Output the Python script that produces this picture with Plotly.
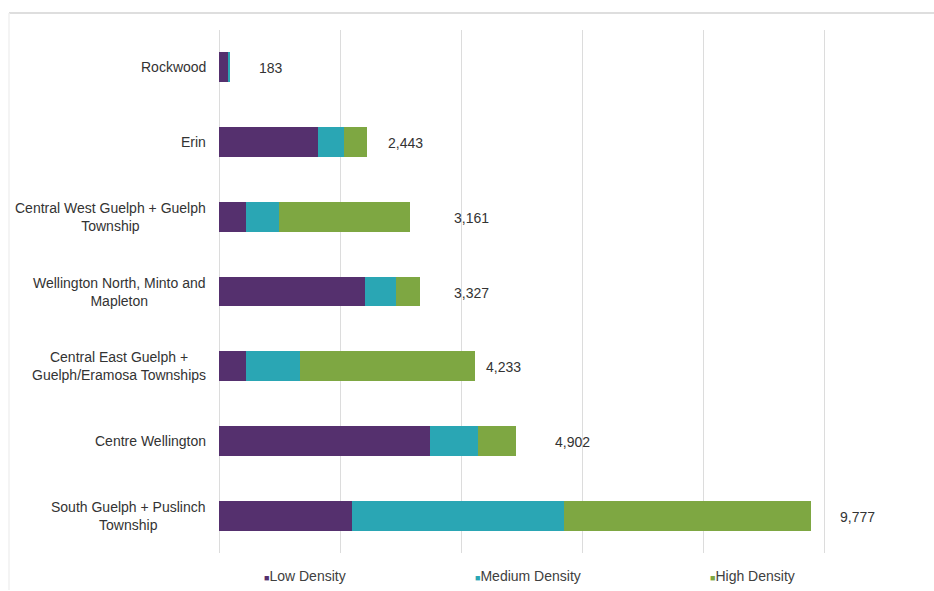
import plotly.graph_objects as go

# Housing units by area, split by density type
areas = [
    "Rockwood",
    "Erin",
    "Central West Guelph + Guelph<br>Township",
    "Wellington North, Minto and<br>Mapleton",
    "Central East Guelph +<br>Guelph/Eramosa Townships",
    "Centre Wellington",
    "South Guelph + Puslinch<br>Township",
]
low_density = [150, 1640, 445, 2420, 451, 3490, 2196]
medium_density = [33, 430, 545, 507, 887, 789, 3500]
high_density = [0, 373, 2171, 400, 2895, 623, 4081]
totals = [183, 2443, 3161, 3327, 4233, 4902, 9777]

series_names = ["Low Density", "Medium Density", "High Density"]
series_colors = ["#55306e", "#2aa6b4", "#7ea742"]

# horizontal nudge (px) for each total label
label_shift = [27, 19, 42, 32, 9, 37, 27]

FONT = "Arial, Liberation Sans, sans-serif"
TEXT = "#333333"

fig = go.Figure()
for name, vals, col in zip(series_names, [low_density, medium_density, high_density], series_colors):
    fig.add_trace(go.Bar(
        y=areas, x=vals, name=name, orientation="h",
        marker=dict(color=col, line=dict(width=0)),
        showlegend=False, hoverinfo="x+name",
    ))

annotations = []
# category labels (centred multi-line text, right-aligned block)
for a in areas:
    annotations.append(dict(
        x=0, xref="paper", y=a, yref="y", text=a, showarrow=False,
        xanchor="right", yanchor="middle", align="center", xshift=-11,
        font=dict(family=FONT, size=14, color=TEXT),
    ))
# total labels
for a, t, s in zip(areas, totals, label_shift):
    annotations.append(dict(
        x=t, xref="x", y=a, yref="y", text=f"{t:,}", showarrow=False,
        xanchor="left", yanchor="middle", xshift=s, yshift=-1,
        font=dict(family=FONT, size=14, color=TEXT),
    ))
# legend entries
legend_x = [262, 473, 708]
for name, col, lx in zip(series_names, series_colors, legend_x):
    annotations.append(dict(
        x=(lx - 219) / 715, xref="paper", y=-0.044, yref="paper",
        text=f"<span style='color:{col};font-size:9px'>■</span>{name}",
        showarrow=False, xanchor="left", yanchor="middle",
        font=dict(family=FONT, size=14, color="#404040"),
    ))

# light frame lines around the chart area
shapes = [
    dict(type="line", xref="paper", yref="paper", x0=(9 - 219) / 715, x1=1.02,
         y0=(553 - 13) / 523, y1=(553 - 13) / 523, line=dict(color="#dedede", width=2)),
    dict(type="line", xref="paper", yref="paper", x0=(9 - 219) / 715, x1=(9 - 219) / 715,
         y0=(553 - 13) / 523, y1=(553 - 590) / 523, line=dict(color="#f0f0f0", width=1.5)),
]

fig.update_layout(
    width=934, height=591,
    margin=dict(l=219, r=0, t=30, b=38),
    paper_bgcolor="white", plot_bgcolor="white",
    barmode="stack", bargap=0.6,
    annotations=annotations, shapes=shapes,
    xaxis=dict(range=[0, 11818], dtick=2000, showgrid=True, gridcolor="#dcdcdc",
               gridwidth=1, zeroline=True, zerolinecolor="#dcdcdc", zerolinewidth=1,
               showticklabels=False, showline=False, fixedrange=True),
    yaxis=dict(autorange="reversed", showticklabels=False, showgrid=False,
               showline=False, zeroline=False, ticks=""),
    font=dict(family=FONT),
)

fig.write_html("out.html")
